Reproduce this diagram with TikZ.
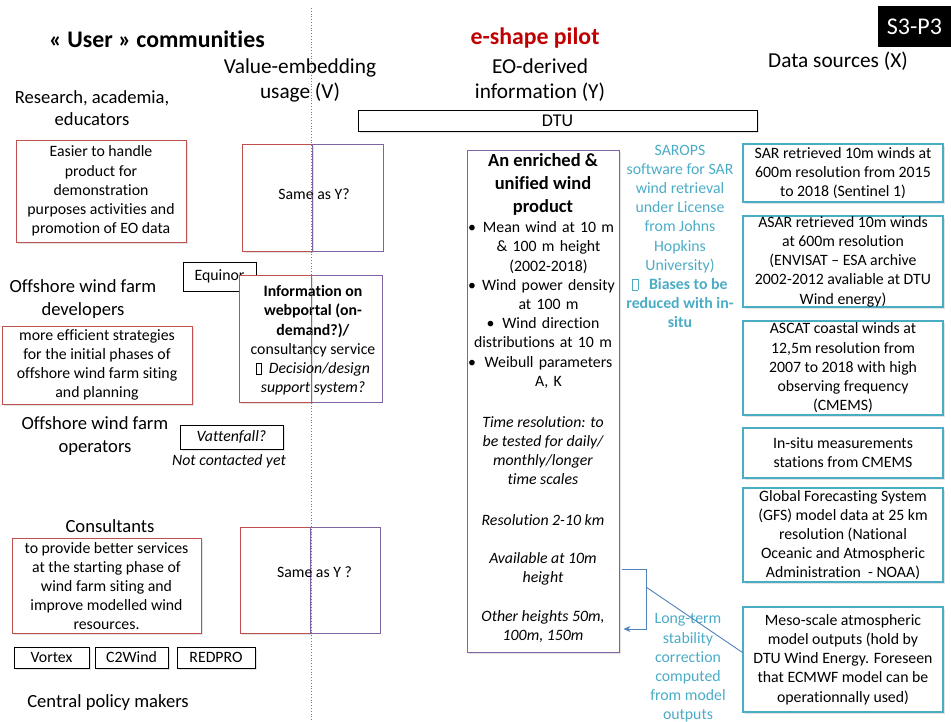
\documentclass[tikz,border=0pt]{standalone}
\usepackage{fontspec}
\setmainfont{Carlito}[Ligatures=NoCommon]
\usetikzlibrary{positioning,shadows,arrows.meta}
\definecolor{boxred}{HTML}{C0504D}
\definecolor{boxpurple}{HTML}{8064A2}
\definecolor{aqua}{HTML}{4BACC6}
\definecolor{linkblue}{HTML}{4F81BD}
\definecolor{pilotred}{HTML}{C00000}
\newcommand\tofu{{\setlength\fboxsep{0pt}\setlength\fboxrule{0.7pt}\fbox{\rule{0pt}{0.62em}\hspace{0.28em}}}}
\newcommand\bfirst[1]{\makebox[13pt][l]{\textbullet}\makebox[135pt]{#1}}
\newcommand\bnext[1]{\hspace*{13pt}\makebox[135pt]{#1}}

\begin{document}
\begin{tikzpicture}[x=1pt,y=-1pt,
    softshadow/.style={drop shadow={opacity=0.22,shadow xshift=1.5pt,shadow yshift=-1.5pt}},
    body/.style={font=\fontsize{15.8}{19.2}\selectfont,align=center,inner sep=0pt},
    heading/.style={font=\fontsize{21.3}{25}\selectfont,align=center,inner sep=0pt},
    group/.style={font=\fontsize{18.6}{22.5}\selectfont,align=center,inner sep=0pt},
    bigtitle/.style={font=\bfseries\fontsize{23.8}{28}\selectfont,inner sep=0pt},
    redbox/.style={draw=boxred,line width=1pt,fill=white,softshadow,inner sep=0pt},
    purplebox/.style={draw=boxpurple,line width=1pt,inner sep=0pt},
    srcbox/.style={body,draw=aqua,line width=1.1pt,fill=white,softshadow,minimum width=200pt},
    tagbox/.style={body,draw=black,line width=1pt,fill=white,softshadow},
    note/.style={body,text=aqua},
    link/.style={draw=linkblue,line width=0.9pt}]
		%%%%% frame %%%%%
		\useasboundingbox (0,0) rectangle (951,721);
		
		%%%%% headings %%%%%
		\node[bigtitle] (users) at (157,39) {« User » communities};
		\node[bigtitle,text=pilotred] (pilot) at (535,38) {e-shape pilot};
		\node[fill=black,text=white,font=\fontsize{24}{28}\selectfont,minimum width=73pt,minimum height=41pt,inner sep=0pt] (tag) at (914.5,26.5) {S3-P3};
		\node[heading] (xhead) at (838,61) {Data sources (X)};
		\node[heading] (vhead) at (300,80) {Value-embedding\\usage (V)};
		\node[heading] (yhead) at (540,80) {EO-derived\\information (Y)};
		\node[draw=black,line width=1pt,fill=white,softshadow,minimum width=399pt,minimum height=21pt,inner sep=0pt,font=\fontsize{18}{20}\selectfont] (dtu) at (557.5,120.5) {DTU};
		
		%%%%% user communities %%%%%
		\node[group] (research) at (92,108) {Research, academia,\\educators};
		\node[redbox,body,minimum width=170pt,minimum height=102pt] (easier) at (101,191) {Easier to handle\\product for\\demonstration\\purposes activities and\\promotion of EO data};
		
		\node[draw=black,line width=1pt,body,minimum width=73pt,minimum height=29pt] (equinor) at (219.5,276.5) {Equinor};
		\node[group] (developers) at (83,299) {Offshore wind farm\\developers};
		\node[redbox,body,minimum width=190pt,minimum height=78pt] (devbox) at (97,365) {more efficient strategies\\for the initial phases of\\offshore wind farm siting\\and planning};
		
		\node[group] (operators) at (95,436) {Offshore wind farm\\operators};
		\node[tagbox,font=\itshape\fontsize{15.8}{19.2}\selectfont,minimum width=103pt,minimum height=24pt] (vattenfall) at (231.5,437) {Vattenfall?};
		\node[body,font=\itshape\fontsize{15.8}{19.2}\selectfont] (notyet) at (229,461) {Not contacted yet};
		
		\node[group] (consultants) at (110,526) {Consultants};
		\node[redbox,body,minimum width=189pt,minimum height=95pt] (consbox) at (106.5,586) {to provide better services\\at the starting phase of\\wind farm siting and\\improve modelled wind\\resources.};
		\node[tagbox,minimum width=75pt,minimum height=21pt] (vortex) at (51.5,657.5) {Vortex};
		\node[tagbox,minimum width=73pt,minimum height=21pt] (c2wind) at (131.5,657.5) {C2Wind};
		\node[tagbox,minimum width=78pt,minimum height=21pt] (redpro) at (216,657.5) {REDPRO};
		\node[group] (policy) at (108,703) {Central policy makers};
		
		%%%%% value-embedding usage %%%%%
		\node[redbox,minimum width=70pt,minimum height=107pt] (vred1) at (277,197.5) {};
		\node[purplebox,minimum width=71pt,minimum height=107pt] (vpur1) at (347.5,197.5) {};
		\node[body] (same1) at (314,194) {Same as Y?};
		
		\node[redbox,minimum width=72pt,minimum height=127pt] (vred2) at (275,338.5) {};
		\node[purplebox,minimum width=71pt,minimum height=127pt] (vpur2) at (346.5,338.5) {};
		\node[body] (portal) at (313,340.5) {\textbf{Information on}\\\textbf{webportal (on-}\\\textbf{demand?)/}\\consultancy service\\\tofu\ \ \textit{Decision/design}\\\textit{support system?}};
		
		\node[redbox,minimum width=70pt,minimum height=106pt] (vred3) at (275,580) {};
		\node[purplebox,minimum width=70pt,minimum height=106pt] (vpur3) at (345,580) {};
		\node[body] (same3) at (314.5,572) {Same as Y ?};
		
		%%%%% EO-derived information %%%%%
		\node[draw=boxpurple,line width=1pt,fill=white,softshadow,minimum width=152pt,minimum height=502pt] (prod) at (543,401) {};
		\node[inner sep=0pt,align=center,font=\bfseries\fontsize{18.5}{23}\selectfont] (prodtitle) at (543,184) {An enriched \&\\unified wind\\product};
		\node[body,align=left,text width=150pt] (prodlist) at (543,305) {\bfirst{Mean wind at 10 m}\\\bnext{\& 100 m height}\\\bnext{(2002-2018)}\\
			\bfirst{Wind power density}\\\bnext{at 100 m}\\
			\makebox[150pt]{\textbullet\enspace Wind direction}\\\makebox[150pt]{distributions at 10 m}\\
			\bfirst{Weibull parameters}\\\bnext{A, K}};
		\node[body,font=\itshape\fontsize{15.8}{19.2}\selectfont] (timeres) at (543,450.5) {Time resolution: to\\be tested for daily/\\monthly/longer\\time scales};
		\node[body,font=\itshape\fontsize{15.8}{19.2}\selectfont] (spaceres) at (543,520) {Resolution 2-10 km};
		\node[body,font=\itshape\fontsize{15.8}{19.2}\selectfont] (avail) at (543,568.5) {Available at 10m\\height};
		\node[body,font=\itshape\fontsize{15.8}{19.2}\selectfont] (heights) at (543,626.5) {Other heights 50m,\\100m, 150m};
		
		\node[note] (sarops) at (680,236.5) {SAROPS\\software for SAR\\wind retrieval\\under License\\from Johns\\Hopkins\\University)\\\textbf{\tofu\ \ \ Biases to be}\\\textbf{reduced with in-}\\\textbf{situ}};
		\node[note] (longterm) at (688,668) {Long-term\\stability\\correction\\computed\\from model\\outputs};
		
		%%%%% data sources %%%%%
		\node[srcbox,minimum height=58pt] (sar) at (843,173) {SAR retrieved 10m winds at\\600m resolution from 2015\\to 2018 (Sentinel 1)};
		\node[srcbox,minimum height=91pt] (asar) at (843,261.5) {ASAR retrieved 10m winds\\at 600m resolution\\(ENVISAT – ESA archive\\2002-2012 avaliable at DTU\\Wind energy)};
		\node[srcbox,minimum height=94pt] (ascat) at (843,368) {ASCAT coastal winds at\\12,5m resolution from\\2007 to 2018 with high\\observing frequency\\(CMEMS)};
		\node[srcbox,minimum height=50pt] (insitu) at (843,453) {In-situ measurements\\stations from CMEMS};
		\node[srcbox,minimum height=94pt] (gfs) at (843,535) {Global Forecasting System\\(GFS) model data at 25 km\\resolution (National\\Oceanic and Atmospheric\\Administration\ \ - NOAA)};
		\node[srcbox,minimum height=105pt] (meso) at (843,659.5) {Meso-scale atmospheric\\model outputs (hold by\\DTU Wind Energy. Foreseen\\that ECMWF model can be\\operationnally used)};
		
		%%%%% stability correction link %%%%%
		\coordinate (bendtop) at (646,569);
		\coordinate (bendlow) at (646,629);
		\coordinate (split) at (646,587);
		\draw[link,-{Stealth[length=7pt,width=6pt]},shorten <=2pt,shorten >=4pt] (prod.east |- bendtop) -- (bendtop) -- (bendlow) -- (prod.east |- bendlow);
		\draw[link] (split) -- ([yshift=7pt]meso.west);
		
		%%%%% separator %%%%%
		\draw[linkblue,dotted,line width=0.8pt] (311,8) -- (311,721);
		
		%%%%% END %%%%%
	\end{tikzpicture}
\end{document}
